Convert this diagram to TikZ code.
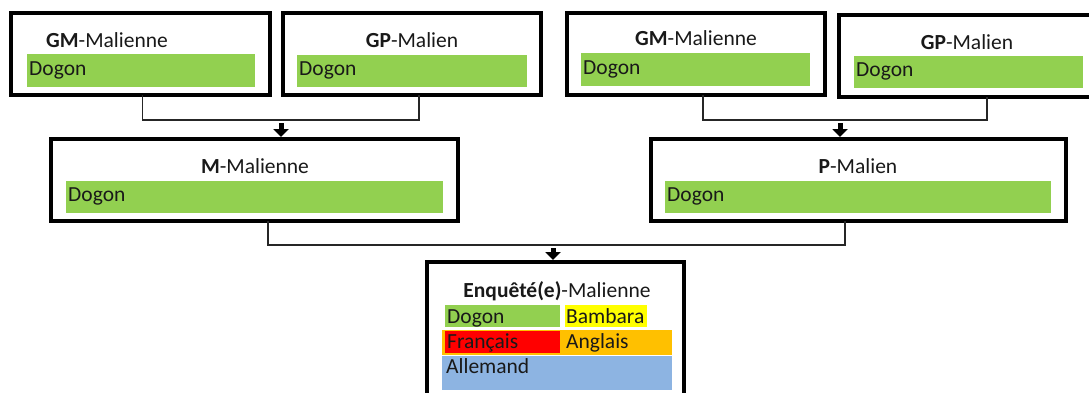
\documentclass[tikz,border=0pt]{standalone}
\usepackage{fontspec}
\setmainfont{Carlito}
\usetikzlibrary{arrows.meta}
\definecolor{langgreen}{HTML}{92D050}
\definecolor{langyellow}{HTML}{FFFF00}
\definecolor{langred}{HTML}{FF0000}
\definecolor{langorange}{HTML}{FFC000}
\definecolor{langblue}{HTML}{8DB4E2}
\begin{document}
\begin{tikzpicture}[x=1pt,y=-1pt,
  font=\fontsize{21.5}{25}\selectfont,
  person/.style={draw=black, line width=3.5pt, inner sep=0pt, outer sep=0pt, anchor=north west},
  langbar/.style={fill=#1, inner sep=0pt, outer sep=0pt, anchor=north west},
  lbl/.style={inner sep=0pt, anchor=base west, text=black!90},
  ttl/.style={inner sep=0pt, anchor=base, text=black!90},
  link/.style={draw=black!85, line width=1.2pt},
  descent/.style={line width=5pt, -{Triangle[width=15pt,length=8pt]}}]
\clip (0,0) rectangle (1089,392);
\fill[white] (0,0) rectangle (1089,392);

% grandparents, maternal side
\node[person, minimum width=259pt, minimum height=82pt] (gm1) at (11,13) {};
\node[langbar=langgreen, minimum width=228pt, minimum height=33pt] (bgm1) at (27,54) {};
\node[ttl] (tgm1) at (107,47) {\textbf{GM}-Malienne};
\node[lbl] (lgm1) at ([xshift=2pt,yshift=-21pt]bgm1.north west) {Dogon};

\node[person, minimum width=258pt, minimum height=82pt] (gp1) at (283,13) {};
\node[langbar=langgreen, minimum width=230pt, minimum height=32pt] (bgp1) at (297,55) {};
\node[ttl] (tgp1) at (412,47) {\textbf{GP}-Malien};
\node[lbl] (lgp1) at ([xshift=2pt,yshift=-20pt]bgp1.north west) {Dogon};

% grandparents, paternal side
\node[person, minimum width=258pt, minimum height=82pt] (gm2) at (567,13) {};
\node[langbar=langgreen, minimum width=229pt, minimum height=33pt] (bgm2) at (581,53) {};
\node[ttl] (tgm2) at (696,45) {\textbf{GM}-Malienne};
\node[lbl] (lgm2) at ([xshift=2pt,yshift=-21pt]bgm2.north west) {Dogon};

\node[person, minimum width=252pt, minimum height=82pt] (gp2) at (839,15) {};
\node[langbar=langgreen, minimum width=229pt, minimum height=32pt] (bgp2) at (854,56) {};
\node[ttl] (tgp2) at (967,49) {\textbf{GP}-Malien};
\node[lbl] (lgp2) at ([xshift=2pt,yshift=-20pt]bgp2.north west) {Dogon};

% parents
\node[person, minimum width=407pt, minimum height=82pt] (mm) at (51,139) {};
\node[langbar=langgreen, minimum width=377pt, minimum height=32pt] (bmm) at (66,181) {};
\node[ttl] (tmm) at (255,173) {\textbf{M}-Malienne};
\node[lbl] (lmm) at ([xshift=2pt,yshift=-20pt]bmm.north west) {Dogon};

\node[person, minimum width=415pt, minimum height=82pt] (pm) at (651,139) {};
\node[langbar=langgreen, minimum width=386pt, minimum height=32pt] (bpm) at (665,181) {};
\node[ttl] (tpm) at (858,173) {\textbf{P}-Malien};
\node[lbl] (lpm) at ([xshift=2pt,yshift=-20pt]bpm.north west) {Dogon};

% respondent
\node[person, minimum width=257pt, minimum height=150pt] (en) at (427,262) {};
\node[ttl] (ten) at (557,297) {\textbf{Enquêté(e)}-Malienne};
\node[langbar=langgreen, minimum width=115pt, minimum height=22pt] (cdo) at (445,305) {};
\node[langbar=langyellow, minimum width=82pt, minimum height=22pt] (cba) at (565,305) {};
\node[langbar=langorange, minimum width=230pt, minimum height=25pt] (can) at (442,330) {};
\node[langbar=langred, minimum width=115pt, minimum height=22pt] (cfr) at (445,331) {};
\node[langbar=langblue, minimum width=230pt, minimum height=34pt] (cal) at (442,356) {};
\node[lbl] (ldo) at (447,323) {Dogon};
\node[lbl] (lba) at (566,323) {Bambara};
\node[lbl] (lfr) at (447,348) {Français};
\node[lbl] (lan) at (566,348) {Anglais};
\node[lbl] (lal) at (446,373) {Allemand};

% family links
\coordinate (j1) at (281,120);
\coordinate (j2) at (840,120);
\coordinate (j3) at (553,245);
\draw[link] ([xshift=2pt]gm1.south) -- ++(0,25) -| ([xshift=7pt]gp1.south);
\draw[link] ([xshift=7pt]gm2.south) -- ++(0,25) -| ([xshift=22pt]gp2.south);
\draw[link] ([xshift=13.5pt]mm.south) -- ++(0,24) -| ([xshift=-13.5pt]pm.south);
\draw[descent] ([yshift=-3pt]j1) -- ([yshift=2pt]j1 |- mm.north);
\draw[descent] ([yshift=-3pt]j2) -- ([yshift=2pt]j2 |- pm.north);
\draw[descent] ([yshift=-3pt]j3) -- ([yshift=2pt]j3 |- en.north);
\end{tikzpicture}
\end{document}
